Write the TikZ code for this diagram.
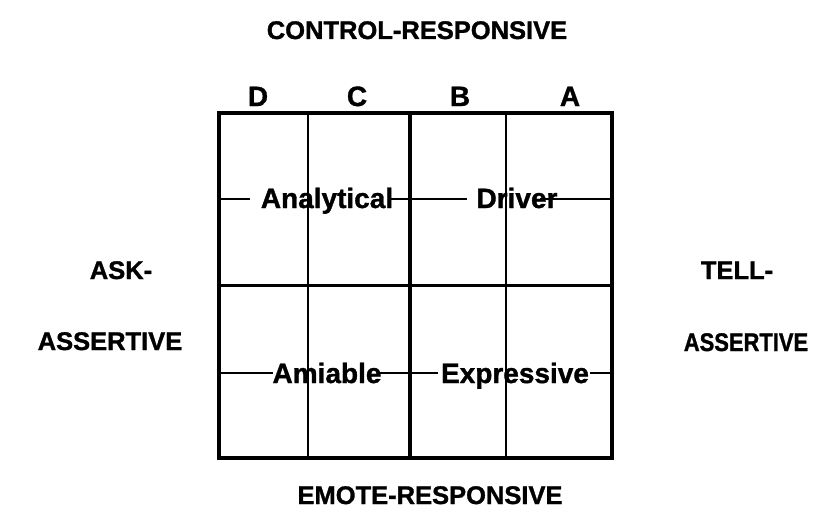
\documentclass[tikz,border=0pt]{standalone}
\usepackage{fontspec}
\setmainfont{Liberation Sans}[BoldFeatures={FakeBold=1.2}]
\begin{document}
\begin{tikzpicture}[x=1pt,y=-1pt,
  lbl/.style={font=\bfseries\fontsize{25.5}{28}\selectfont, inner sep=0pt, anchor=base},
  cell/.style={font=\bfseries\fontsize{28}{30}\selectfont, inner sep=0pt, anchor=base},
  thick line/.style={line width=3.5pt, line cap=rect},
  thin line/.style={line width=1.8pt},
  strike/.style={line width=1.4pt}]
\useasboundingbox (0,0) rectangle (837,527);
% grid coordinates
\coordinate (tl) at (219,113);
\coordinate (tr) at (612,113);
\coordinate (bl) at (219,458);
\coordinate (br) at (612,458);
\coordinate (ml) at (219,285);
\coordinate (mr) at (612,285);
\coordinate (c1t) at (308,113); \coordinate (c1b) at (308,458);
\coordinate (c2t) at (410,113); \coordinate (c2b) at (410,458);
\coordinate (c3t) at (506,113); \coordinate (c3b) at (506,458);
% text lines
\coordinate (u0) at (219,199); \coordinate (u1) at (250,199);
\coordinate (u2) at (390,199); \coordinate (u3) at (467,199);
\coordinate (u4) at (540,199); \coordinate (u5) at (612,199);
\coordinate (w0) at (219,373); \coordinate (w1) at (273,373);
\coordinate (w2) at (380,373); \coordinate (w3) at (438,373);
\coordinate (w4) at (590,373); \coordinate (w5) at (612,373);
\draw[strike] (u0) -- (u1) (u2) -- (u3) (u4) -- (u5);
\draw[strike] (w0) -- (w1) (w2) -- (w3) (w4) -- (w5);
\draw[thin line] (c1t) -- (c1b) (c3t) -- (c3b);
\draw[thick line] (c2t) -- (c2b);
\draw[line width=3pt] (ml) -- (mr);
\draw[thick line] (tl) rectangle (br);
% column letters
\node[cell] (D) at (258,106) {D};
\node[cell] (C) at (357,106) {C};
\node[cell] (B) at (460,106) {B};
\node[cell] (A) at (570,106) {A};
% cell labels
\node[cell] (anal) at (327,208) {Analytical};
\node[cell] (driv) at (517,208) {Driver};
\node[cell] (amia) at (327,383) {Amiable};
\node[cell] (expr) at (515,383) {Expressive};
% outer labels
\node[lbl] (top) at (417,39) {CONTROL-RESPONSIVE};
\node[lbl] (bot) at (430,504) {EMOTE-RESPONSIVE};
\node[lbl] (ask) at (121,279) {ASK-};
\node[lbl] (asl) at (110,350) {ASSERTIVE};
\node[lbl] (tell) at (737,279) {TELL-};
\node[lbl,xscale=0.86] (asr) at (746,351) {ASSERTIVE};
\end{tikzpicture}
\end{document}
